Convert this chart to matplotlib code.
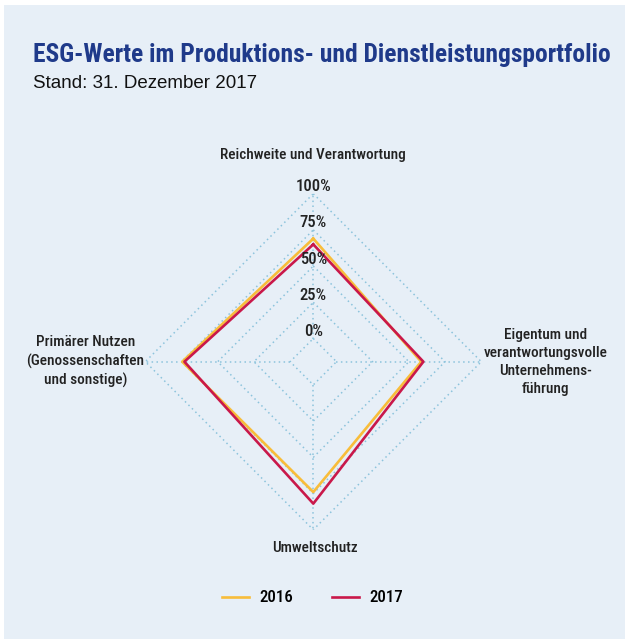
import numpy as np
import matplotlib.pyplot as plt
from matplotlib.patches import Rectangle

categories = [
    "Reichweite und Verantwortung",
    "Eigentum und\nverantwortungsvolle\nUnternehmens-\nführung",
    "Umweltschutz",
    "Primärer Nutzen\n(Genossenschaften\nund sonstige)",
]
values_2016 = [69, 58.5, 74, 74.5]
values_2017 = [65, 60, 82, 73]
ticks = [0, 25, 50, 75, 100]
tick_labels = ["0%", "25%", "50%", "75%", "100%"]
series_names = ["2016", "2017"]

BG = "#e7eff7"
GRID = "#8cc3dc"
YELLOW = "#f8bd3a"
RED = "#c9184a"
TITLE = "#1f3a8a"
TXT = "#222222"
NARROW = ["Roboto Condensed", "Roboto", "DejaVu Sans"]
REG = ["Liberation Sans", "DejaVu Sans"]


def radar():
    fig = plt.figure(figsize=(6.25, 6.39), dpi=100)
    fig.patch.set_facecolor("white")
    fig.patches.append(Rectangle((4 / 625, 0), 1, 1 - 5 / 639,
                                 transform=fig.transFigure,
                                 facecolor=BG, edgecolor="none", zorder=-1))

    fig.text(33 / 625, 1 - 62 / 639,
             "ESG-Werte im Produktions- und Dienstleistungsportfolio",
             family=NARROW, weight="bold", fontsize=18.4, color=TITLE,
             va="baseline", ha="left")
    fig.text(33 / 625, 1 - 87.5 / 639, "Stand: 31. Dezember 2017",
             family=REG, fontsize=13.5, color="#111111",
             va="baseline", ha="left")

    ax = fig.add_axes([145.3 / 625, (639 - 361.7 - 168) / 639,
                       336 / 625, 336 / 639], projection="polar")
    ax.set_facecolor("none")
    ax.set_theta_zero_location("N")
    ax.set_theta_direction(-1)
    ax.set_ylim(-16, 100)
    ax.grid(False)
    ax.spines["polar"].set_visible(False)
    ax.set_xticks([])
    ax.set_yticks([])

    n = len(categories)
    angles = np.arange(n) * 2 * np.pi / n
    closed = np.append(angles, angles[0])

    # diamond rings and spokes
    for t in ticks:
        ax.plot(closed, [t] * (n + 1), color=GRID, lw=1.1,
                linestyle=(0, (1, 2.2)), zorder=1)
    for a in angles:
        ax.plot([a, a], [ticks[0], ticks[-1]], color=GRID, lw=1.1,
                linestyle=(0, (1, 2.2)), zorder=1)

    for t, lab in zip(ticks, tick_labels):
        ax.annotate(lab, (0, t), xytext=(0, 7), textcoords="offset pixels",
                    ha="center", va="center", family=NARROW, weight="medium",
                    fontsize=12, color=TXT, zorder=4)

    l1, = ax.plot(closed, values_2016 + values_2016[:1], color=YELLOW,
                  lw=1.9, zorder=2, label=series_names[0])
    l2, = ax.plot(closed, values_2017 + values_2017[:1], color=RED,
                  lw=1.9, zorder=3, label=series_names[1])

    offsets = [(0, 39), (64, 0), (2, -18), (-60, 0)]
    for a, lab, off in zip(angles, categories, offsets):
        ax.annotate(lab, (a, 100), xytext=off, textcoords="offset pixels",
                    ha="center", va="center", family=NARROW, weight="medium",
                    fontsize=11, color=TXT, linespacing=1.36,
                    annotation_clip=False)

    fig.legend(handles=[l1, l2], loc="center",
               bbox_to_anchor=(0.5, 1 - 598 / 639),
               ncol=2, frameon=False, handlelength=1.6, columnspacing=2.3,
               handletextpad=0.6,
               prop={"family": NARROW, "size": 12.2, "weight": "medium"})

    plt.savefig("out.png", dpi=100, facecolor=fig.get_facecolor())


def main():
    radar()


if __name__ == "__main__":
    main()
